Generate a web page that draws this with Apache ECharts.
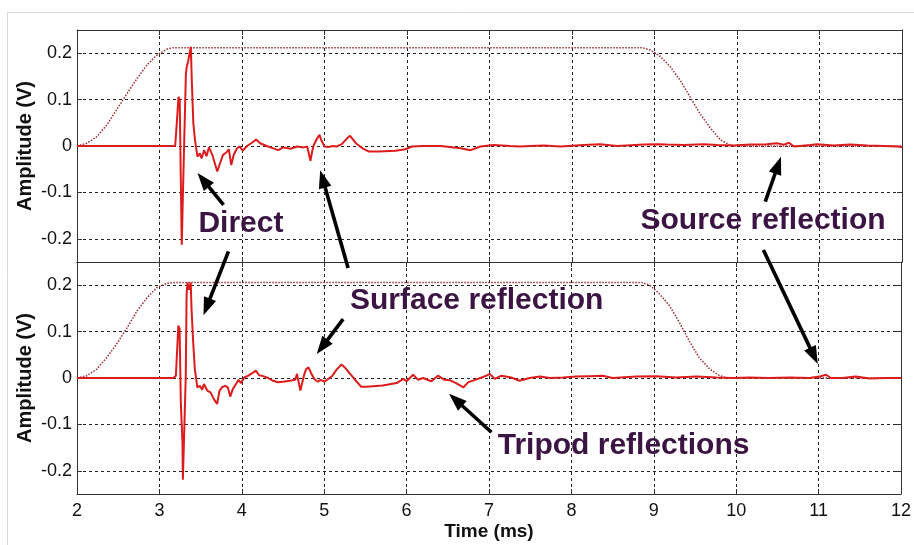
<!DOCTYPE html>
<html>
<head>
<meta charset="utf-8">
<script src="https://cdn.jsdelivr.net/npm/echarts@6/dist/echarts.min.js"></script>
<style>
  html, body { margin: 0; padding: 0; background: #fff; }
  #chart { width: 914px; height: 545px; }
</style>
</head>
<body>
<div id="chart"></div>
<script>
// Tick values
const ampTicks = [-0.2, -0.1, 0, 0.1, 0.2];
const timeMin = 2;
const timeMax = 12;

// Received signal, upper trace: [time (ms), amplitude (V)]
const sigTop = [
  [2.0,0],[3.19,0],[3.21,0.05],[3.23,0.106],[3.245,0.10],[3.26,-0.095],[3.27,-0.213],[3.285,-0.095],
  [3.30,0.013],[3.32,0.156],[3.33,0.17],[3.35,0.185],[3.365,0.2],[3.38,0.214],[3.39,0.149],[3.41,0.049],
  [3.43,0.013],[3.46,-0.023],[3.49,-0.016],[3.51,-0.027],[3.54,-0.009],[3.57,-0.022],[3.60,-0.003],
  [3.64,-0.019],[3.70,-0.055],[3.74,-0.034],[3.77,-0.019],[3.81,-0.014],[3.84,-0.007],[3.87,-0.041],
  [3.90,-0.019],[3.94,-0.005],[3.97,-0.001],[4.01,-0.01],[4.06,0],[4.12,0.007],[4.17,0.014],[4.22,0.006],
  [4.30,0],[4.38,-0.005],[4.44,-0.009],[4.50,-0.003],[4.59,-0.006],[4.67,-0.001],[4.75,-0.003],[4.79,-0.001],
  [4.81,-0.016],[4.83,-0.032],[4.85,-0.012],[4.87,0.002],[4.91,0.016],[4.94,0.024],[4.96,0.013],[5.0,-0.001],
  [5.05,-0.002],[5.10,0],[5.15,-0.001],[5.21,0.004],[5.27,0.016],[5.31,0.022],[5.38,0.006],[5.46,-0.005],
  [5.54,-0.012],[5.66,-0.012],[5.86,-0.01],[5.98,-0.007],[6.06,-0.001],[6.18,0],[6.41,0],[6.57,-0.003],
  [6.65,-0.005],[6.77,-0.009],[6.89,-0.001],[7.05,0.002],[7.25,0],[7.37,-0.001],[7.49,0],[7.66,0.001],
  [7.86,-0.001],[8.14,0.002],[8.34,0.004],[8.55,0],[8.87,0.003],[9.03,0.004],[9.15,0.003],[9.35,0.002],
  [9.6,0.004],[9.76,0.002],[9.96,0.001],[10.16,0.003],[10.36,0.004],[10.48,0.006],[10.57,0.003],
  [10.63,0.007],[10.69,-0.001],[10.89,0.002],[10.97,0.004],[11.17,0.001],[11.37,0.003],[11.58,0.001],
  [11.78,0],[11.94,-0.001],[12.0,-0.002]
];

// Received signal, lower trace
const sigBottom = [
  [2.0,0],[3.17,0],[3.20,0.005],[3.23,0.113],[3.245,0.106],[3.26,-0.053],[3.28,-0.139],[3.285,-0.219],
  [3.30,-0.124],[3.32,0.005],[3.33,0.178],[3.34,0.206],[3.36,0.19],[3.38,0.206],[3.39,0.149],[3.41,0.077],
  [3.43,0.019],[3.46,-0.02],[3.49,-0.017],[3.52,-0.025],[3.54,-0.013],[3.56,-0.009],[3.58,-0.027],
  [3.62,-0.031],[3.66,-0.045],[3.70,-0.056],[3.73,-0.027],[3.76,-0.02],[3.80,-0.017],[3.83,-0.02],
  [3.86,-0.04],[3.89,-0.024],[3.93,-0.013],[3.96,-0.004],[3.99,-0.011],[4.03,0.001],[4.08,0.005],
  [4.14,0.012],[4.17,0.016],[4.21,0.006],[4.26,0.004],[4.32,0],[4.38,-0.006],[4.44,-0.009],[4.50,-0.008],
  [4.58,-0.006],[4.65,-0.004],[4.67,0.009],[4.69,-0.009],[4.71,-0.027],[4.73,-0.013],[4.76,0.009],
  [4.78,0.019],[4.81,0.023],[4.84,0.011],[4.88,-0.002],[4.92,-0.008],[4.96,-0.004],[5.00,-0.008],
  [5.05,-0.002],[5.10,0.005],[5.15,0.018],[5.21,0.029],[5.26,0.021],[5.31,0.01],[5.39,-0.007],
  [5.45,-0.019],[5.51,-0.019],[5.71,-0.016],[5.88,-0.011],[5.96,-0.002],[6.0,-0.007],[6.08,0.007],
  [6.14,-0.004],[6.2,0],[6.3,-0.007],[6.38,0.005],[6.46,-0.004],[6.53,-0.005],[6.6,-0.011],[6.69,-0.02],
  [6.75,-0.009],[6.83,-0.004],[6.91,0.001],[6.97,0.005],[7.01,0.009],[7.07,-0.002],[7.15,0.005],
  [7.27,0.001],[7.37,-0.006],[7.49,0],[7.62,0.003],[7.74,0],[7.9,0.001],[8.06,0.003],[8.22,0.004],
  [8.38,0.005],[8.5,0],[8.79,0.003],[9.03,0.004],[9.27,0.001],[9.52,0.003],[9.76,0.001],[9.96,0],
  [10.16,0.001],[10.4,0],[10.65,0.001],[10.89,0],[11.01,0.003],[11.09,0.007],[11.15,0],[11.29,0],
  [11.45,0.003],[11.62,-0.001],[11.8,0],[12.0,0]
];

// Tapered time window drawn over each trace
const winTop = [
  [2.0,0],[2.12,0.006],[2.24,0.02],[2.36,0.045],[2.48,0.078],[2.61,0.114],[2.73,0.146],[2.85,0.175],
  [2.97,0.196],[3.09,0.209],[3.17,0.212],[8.85,0.212],[8.95,0.207],[9.07,0.193],[9.19,0.171],
  [9.31,0.142],[9.43,0.106],[9.55,0.07],[9.68,0.038],[9.8,0.013],[9.92,0.002],[10.0,0],[12.0,0]
];
const winBottom = [
  [2.0,0],[2.12,0.005],[2.24,0.019],[2.36,0.044],[2.48,0.073],[2.61,0.109],[2.73,0.145],[2.85,0.173],
  [2.97,0.195],[3.09,0.204],[3.17,0.206],[8.85,0.206],[8.95,0.2],[9.07,0.181],[9.19,0.156],
  [9.31,0.12],[9.43,0.08],[9.55,0.044],[9.68,0.019],[9.8,0.005],[9.88,0],[12.0,0]
];

// Callout labels and arrows, placed in data units of a panel (0 = upper, 1 = lower)
const labels = [
  { text: 'Direct',             grid: 0, at: [3.472, -0.167] },
  { text: 'Surface reflection', grid: 1, at: [5.313, 0.166] },
  { text: 'Source reflection',  grid: 0, at: [8.83, -0.161] },
  { text: 'Tripod reflections', grid: 1, at: [7.106, -0.145] }
];
const arrows = [
  { from: [0, 3.776, -0.127], to: [0, 3.461, -0.058] },
  { from: [0, 3.836, -0.227], to: [1, 3.535, 0.135] },
  { from: [1, 5.29, 0.237],   to: [0, 4.948, -0.052] },
  { from: [1, 5.23, 0.127],   to: [1, 4.909, 0.0515] },
  { from: [0, 10.343, -0.12], to: [0, 10.533, -0.023] },
  { from: [0, 10.32, -0.224], to: [1, 10.99, 0.030] },
  { from: [1, 7.03, -0.117],  to: [1, 6.515, -0.034] }
];

const FONT = '"Liberation Sans", Arial, Helvetica, sans-serif';
const AXIS_COLOR = '#333';
const GRID_LINE = { show: true, lineStyle: { color: '#222', width: 1, type: [3, 3] } };

function xAxesFor(gi, withLabels) {
  return [
    {
      type: 'value', gridIndex: gi, position: 'bottom', min: timeMin, max: timeMax, interval: 1,
      axisLine: { show: true, onZero: false, lineStyle: { color: AXIS_COLOR, width: 1 } },
      axisTick: { show: true, inside: true, length: 5, lineStyle: { color: AXIS_COLOR } },
      axisLabel: { show: withLabels, margin: 8, fontSize: 18, color: '#111', fontFamily: FONT },
      splitLine: GRID_LINE,
      name: withLabels ? 'Time (ms)' : '',
      nameLocation: 'middle', nameGap: 28, nameMoveOverlap: false,
      nameTextStyle: { fontSize: 19, fontWeight: 'bold', color: '#111', fontFamily: FONT }
    },
    {
      type: 'value', gridIndex: gi, position: 'top', min: timeMin, max: timeMax, interval: 1,
      axisLine: { show: true, onZero: false, lineStyle: { color: AXIS_COLOR, width: 1 } },
      axisTick: { show: true, inside: true, length: 5, lineStyle: { color: AXIS_COLOR } },
      axisLabel: { show: false },
      splitLine: { show: false }
    }
  ];
}

function yAxesFor(gi) {
  return [
    {
      type: 'value', gridIndex: gi, position: 'left', min: -0.25, max: 0.25,
      axisLine: { show: true, onZero: false, lineStyle: { color: AXIS_COLOR, width: 1 } },
      axisTick: { show: true, inside: true, length: 5, customValues: ampTicks, lineStyle: { color: AXIS_COLOR } },
      axisLabel: { customValues: ampTicks, margin: 5, fontSize: 18, color: '#111', fontFamily: FONT,
                   formatter: v => String(Math.round(v * 10) / 10) },
      splitLine: GRID_LINE,
      name: 'Amplitude (V)', nameLocation: 'middle', nameGap: 42, nameMoveOverlap: false,
      nameTextStyle: { fontSize: 20, fontWeight: 'bold', color: '#111', fontFamily: FONT }
    },
    {
      type: 'value', gridIndex: gi, position: 'right', min: -0.25, max: 0.25,
      axisLine: { show: true, onZero: false, lineStyle: { color: AXIS_COLOR, width: 1 } },
      axisTick: { show: true, inside: true, length: 5, customValues: ampTicks, lineStyle: { color: AXIS_COLOR } },
      axisLabel: { show: false },
      splitLine: { show: false }
    }
  ];
}

function windowSeries(data, ax) {
  return {
    type: 'line', data, xAxisIndex: ax, yAxisIndex: ax, showSymbol: false, silent: true, z: 2,
    lineStyle: { color: '#9e2a34', width: 1.5, type: [1.5, 1.5] }
  };
}
function signalSeries(data, ax) {
  return {
    type: 'line', data, xAxisIndex: ax, yAxisIndex: ax, showSymbol: false, silent: true, z: 3,
    lineStyle: { color: '#dc1c1c', width: 2 }
  };
}

const chart = echarts.init(document.getElementById('chart'), null, { renderer: 'canvas' });
chart.setOption({
  animation: false,
  backgroundColor: '#fff',
  grid: [
    { left: 77, top: 30, width: 825, height: 232 },
    { left: 77, top: 262, width: 825, height: 232 }
  ],
  xAxis: [...xAxesFor(0, false), ...xAxesFor(1, true)],
  yAxis: [...yAxesFor(0), ...yAxesFor(1)],
  series: [
    windowSeries(winTop, 0),
    signalSeries(sigTop, 0),
    windowSeries(winBottom, 2),
    signalSeries(sigBottom, 2)
  ]
});

// Callouts: convert panel data units to pixels and draw text + arrows
function px(gi, x, y) {
  return chart.convertToPixel({ xAxisIndex: gi * 2, yAxisIndex: gi * 2 }, [x, y]);
}
const graphics = [
  // page frame
  { type: 'line', shape: { x1: 7.5, y1: 12, x2: 7.5, y2: 545 }, style: { stroke: '#d9d9d9', lineWidth: 1 }, silent: true },
  { type: 'line', shape: { x1: 7, y1: 12.5, x2: 914, y2: 12.5 }, style: { stroke: '#d9d9d9', lineWidth: 1 }, silent: true }
];
labels.forEach(l => {
  const p = px(l.grid, l.at[0], l.at[1]);
  graphics.push({
    type: 'text', x: p[0], y: p[1], z: 100, silent: true,
    style: { text: l.text, font: 'bold 30px ' + FONT, fill: '#3b1443', align: 'left', verticalAlign: 'middle' }
  });
});
const HEAD_LEN = 18, HEAD_W = 13;
arrows.forEach(a => {
  const t = px(a.from[0], a.from[1], a.from[2]);
  const h = px(a.to[0], a.to[1], a.to[2]);
  const dx = h[0] - t[0], dy = h[1] - t[1];
  const len = Math.hypot(dx, dy);
  const ux = dx / len, uy = dy / len;
  const bx = h[0] - ux * HEAD_LEN, by = h[1] - uy * HEAD_LEN;
  graphics.push({
    type: 'line', z: 100, silent: true,
    shape: { x1: t[0], y1: t[1], x2: bx + ux * 2, y2: by + uy * 2 },
    style: { stroke: '#000', lineWidth: 3.6 }
  });
  graphics.push({
    type: 'polygon', z: 100, silent: true,
    shape: { points: [[h[0], h[1]], [bx - uy * HEAD_W / 2, by + ux * HEAD_W / 2], [bx + uy * HEAD_W / 2, by - ux * HEAD_W / 2]] },
    style: { fill: '#000' }
  });
});
chart.setOption({ graphic: graphics });
</script>
</body>
</html>
